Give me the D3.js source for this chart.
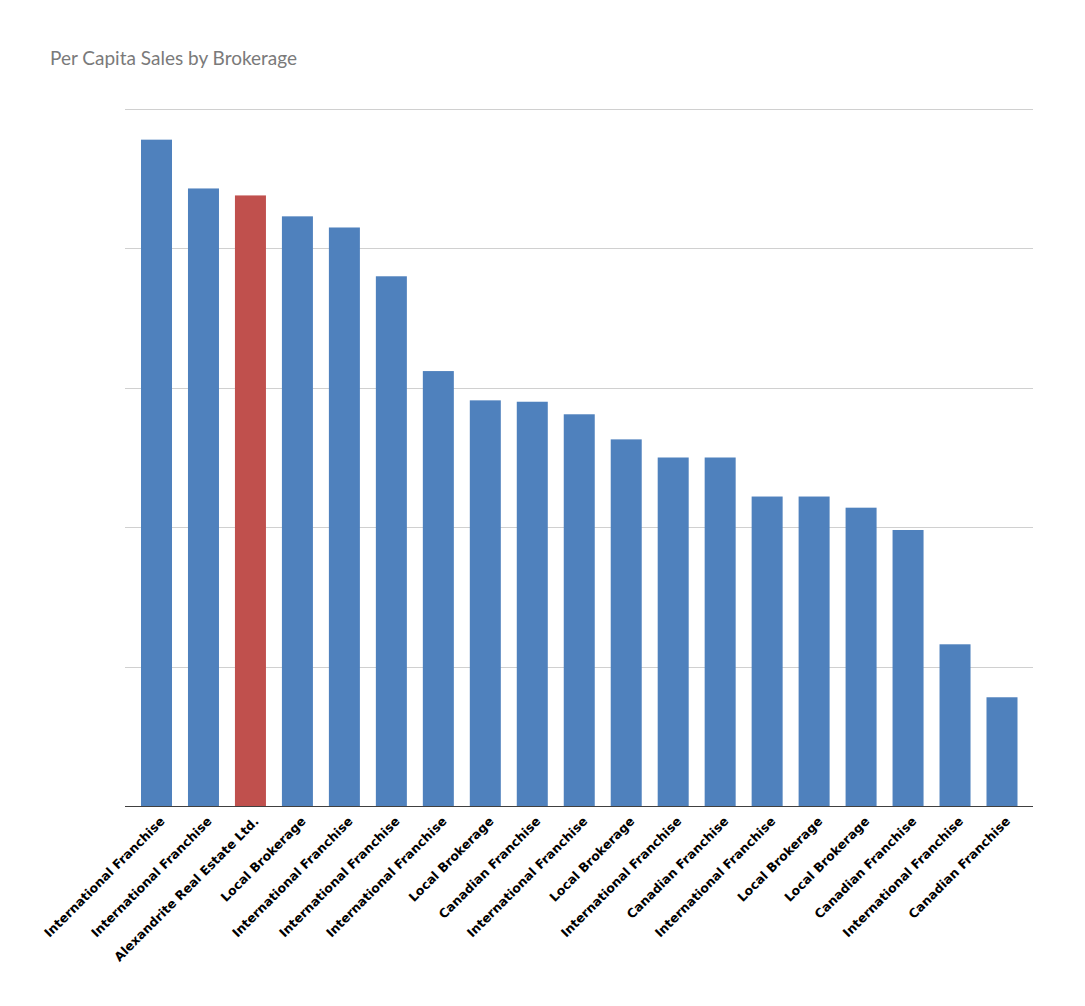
<!DOCTYPE html>
<html>
<head>
<meta charset="utf-8">
<script src="https://cdn.jsdelivr.net/npm/d3@7"></script>
<style>
  body { margin: 0; background: #fff; }
  svg { display: block; }
</style>
</head>
<body>
<div id="chart"></div>
<script>
// данные (единица = один шаг сетки)
const brokerages = [
    "International Franchise", "International Franchise", "Alexandrite Real Estate Ltd.",
    "Local Brokerage", "International Franchise", "International Franchise",
    "International Franchise", "Local Brokerage", "Canadian Franchise",
    "International Franchise", "Local Brokerage", "International Franchise",
    "Canadian Franchise", "International Franchise", "Local Brokerage",
    "Local Brokerage", "Canadian Franchise", "International Franchise",
    "Canadian Franchise"
];
const sales = [4.78, 4.43, 4.38, 4.23, 4.15, 3.80, 3.12, 2.91, 2.90, 2.81,
               2.63, 2.50, 2.50, 2.22, 2.22, 2.14, 1.98, 1.16, 0.78];
const highlight = "Alexandrite Real Estate Ltd.";
const gridTicks = [0, 1, 2, 3, 4, 5];

const width = 1085, height = 1006;
const margin = {left: 125.5, right: 52, top: 109, bottom: 200};

const svg = d3.select("#chart").append("svg")
    .attr("width", width)
    .attr("height", height);

// заголовок
svg.append("text")
    .attr("x", 50)
    .attr("y", 65)
    .attr("font-family", "Lato, 'Open Sans', sans-serif")
    .attr("font-size", 19)
    .attr("fill", "#7a7a7a")
    .text("Per Capita Sales by Brokerage");

const x_scale = d3.scaleBand()
    .domain(d3.range(sales.length))
    .range([margin.left, width - margin.right])
    .paddingInner(0.34)
    .paddingOuter(0.33);

const y_scale = d3.scaleLinear()
    .domain([0, 5])
    .range([height - margin.bottom, margin.top]);

// сетка
svg.append("g")
    .selectAll("line")
    .data(gridTicks.filter(function(d) { return d > 0; }))
    .enter()
    .append("line")
    .attr("x1", 125)
    .attr("x2", width - margin.right)
    .attr("y1", function(d) { return Math.round(y_scale(d)) + 0.5; })
    .attr("y2", function(d) { return Math.round(y_scale(d)) + 0.5; })
    .attr("stroke", "#d0d0d0")
    .attr("stroke-width", 1);

// столбики
svg.append("g")
    .selectAll("rect")
    .data(sales)
    .enter()
    .append("rect")
    .attr("x", function(d, i) { return x_scale(i); })
    .attr("y", function(d) { return y_scale(d); })
    .attr("width", x_scale.bandwidth())
    .attr("height", function(d) { return y_scale(0) - y_scale(d); })
    .attr("fill", function(d, i) {
        return brokerages[i] == highlight ? "#C0504D" : "#4F81BD";
    });

// ось X
svg.append("line")
    .attr("x1", 125)
    .attr("x2", width - margin.right)
    .attr("y1", y_scale(0) + 0.5)
    .attr("y2", y_scale(0) + 0.5)
    .attr("stroke", "#404040")
    .attr("stroke-width", 1.2);

// подписи под углом 45
svg.append("g")
    .selectAll("text")
    .data(brokerages)
    .enter()
    .append("text")
    .attr("transform", function(d, i) {
        let cx = x_scale(i) + x_scale.bandwidth() / 2;
        return "translate(" + (cx + 6) + "," + (y_scale(0) + 13) + ") rotate(-45)";
    })
    .attr("text-anchor", "end")
    .attr("dy", "0.35em")
    .attr("font-family", "'DejaVu Sans', Verdana, sans-serif")
    .attr("font-weight", "bold")
    .attr("font-size", 12.5)
    .attr("fill", "#000")
    .text(function(d) { return d; });
</script>
</body>
</html>
